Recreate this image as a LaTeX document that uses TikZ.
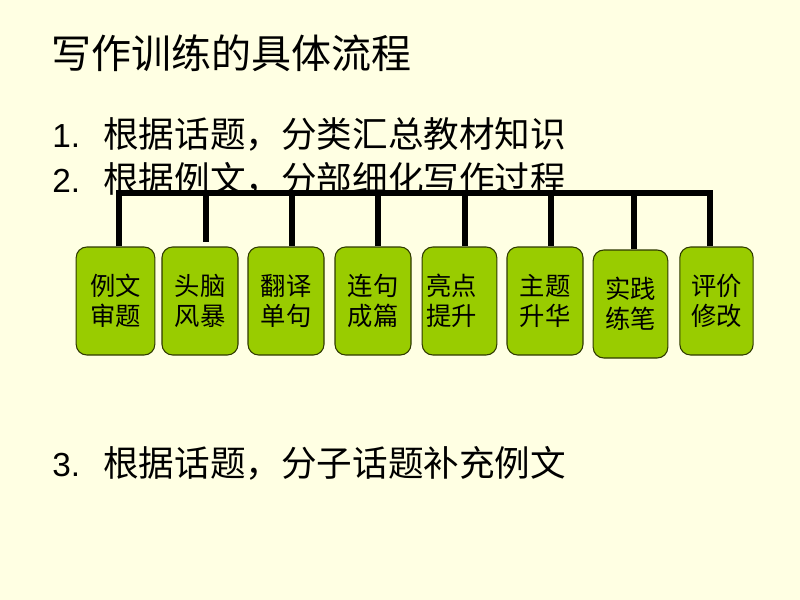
\documentclass[tikz,border=0pt]{standalone}
\usepackage{fontspec}
\setmainfont{Liberation Sans}
\newfontfamily\cjk{Noto Sans CJK SC}
\definecolor{bg}{HTML}{FFFFE3}
\definecolor{boxgreen}{HTML}{99CC00}
\definecolor{boxline}{HTML}{2F3A00}
\begin{document}
\begin{tikzpicture}[x=0.75pt,y=-0.75pt,
  stepbox/.style={draw=boxline, line width=0.8pt, fill=boxgreen, rounded corners=8pt,
    minimum width=57pt, minimum height=81pt, inner sep=0pt, align=center,
    font=\cjk\fontsize{19}{22.5}\selectfont},
  bar/.style={line width=4.8pt, black},
  heading/.style={anchor=west, inner sep=0pt, font=\cjk\fontsize{30}{36}\selectfont},
  item/.style={anchor=west, inner sep=0pt, font=\fontsize{25}{30}\selectfont},
  itemcjk/.style={font=\cjk\fontsize{26.7}{30}\selectfont}]
\fill[bg] (0,0) rectangle (800,600);
\useasboundingbox (0,0) rectangle (800,600);

\node[heading] (title) at (51,53) {写作训练的具体流程};
\node[item] (i1) at (52,134) {\makebox[38.25pt][l]{1.}{\cjk\fontsize{26.7}{30}\selectfont 根据话题，分类汇总教材知识}};
\node[item] (i2) at (52,179) {\makebox[38.25pt][l]{2.}{\cjk\fontsize{26.7}{30}\selectfont 根据例文，分部细化写作过程}};
\node[item] (i3) at (52,463) {\makebox[38.25pt][l]{3.}{\cjk\fontsize{26.7}{30}\selectfont 根据话题，分子话题补充例文}};

\node[stepbox, minimum width=59pt] (b1) at (115.5,301) {例文\\审题};
\node[stepbox] (b2) at (200,301) {头脑\\风暴};
\node[stepbox] (b3) at (286,301) {翻译\\单句};
\node[stepbox] (b4) at (373,301) {连句\\成篇};
\node[stepbox, minimum width=56pt] (b5) at (459.5,301) {亮点\hspace*{12pt}\\提升\hspace*{12pt}};
\node[stepbox] (b6) at (545,301) {主题\\升华};
\node[stepbox, minimum width=56pt] (b7) at (630.5,304) {实践\\练笔};
\node[stepbox, minimum width=55pt] (b8) at (716.5,301) {评价\\修改};

\coordinate (t1) at (119,193);
\coordinate (t2) at (206,193);
\coordinate (t3) at (292,193);
\coordinate (t4) at (378,193);
\coordinate (t5) at (465,193);
\coordinate (t6) at (551,193);
\coordinate (t7) at (634,193);
\coordinate (t8) at (710,193);

\draw[bar] (t1 |- b1.north) -- (t1) -- (t8) -- (t8 |- b8.north);
\draw[bar] (t2) -- ([yshift=3pt]t2 |- b2.north);
\draw[bar] (t3) -- (t3 |- b3.north);
\draw[bar] (t4) -- (t4 |- b4.north);
\draw[bar] (t5) -- (t5 |- b5.north);
\draw[bar] (t6) -- (t6 |- b6.north);
\draw[bar] (t7) -- (t7 |- b7.north);
\end{tikzpicture}
\end{document}
